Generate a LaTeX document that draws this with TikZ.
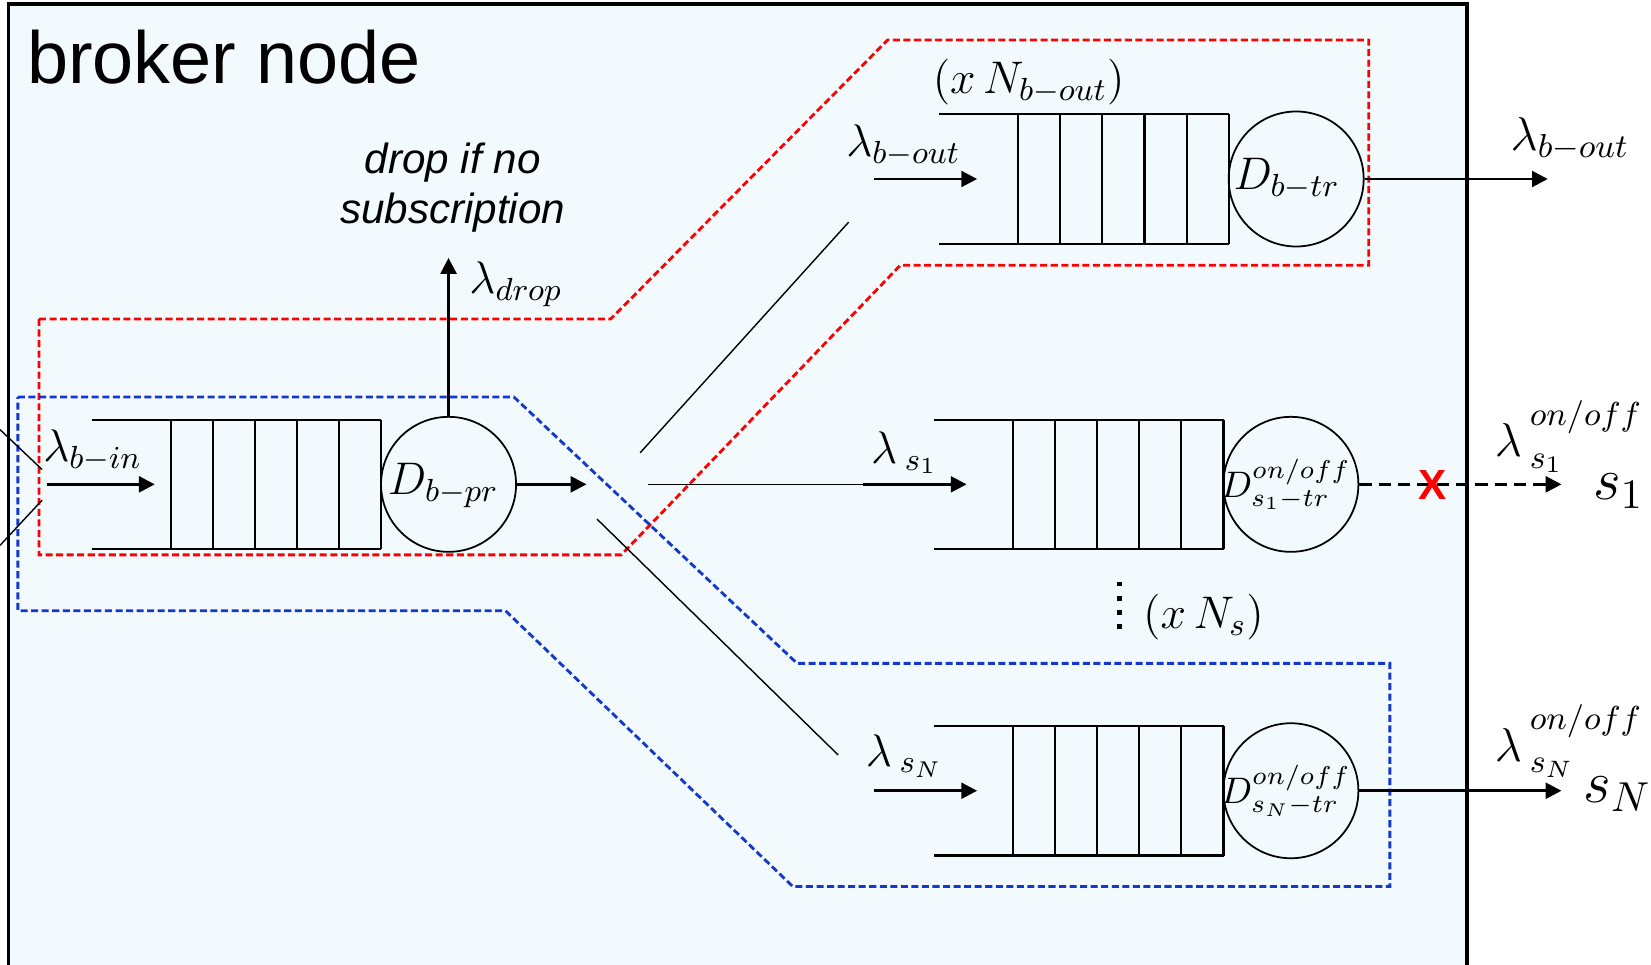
\documentclass[tikz,border=0pt]{standalone}
\usepackage{fix-cm}
\usepackage{fontspec}
\usetikzlibrary{arrows.meta}
\newfontfamily\arialfont{Liberation Sans}
\definecolor{brokerfill}{RGB}{242,250,253}
\definecolor{subblue}{RGB}{20,55,205}
\definecolor{outred}{RGB}{255,0,0}
\newcommand{\onoff}{\raisebox{4pt}{$\scriptstyle on/off$}}
\tikzset{
  qline/.style={line width=0.6pt},
  server/.style={circle,draw,line width=0.5pt,minimum size=1.35cm,inner sep=0pt},
  flow/.style={line width=0.8pt,->},
  split/.style={line width=0.4pt},
  grp/.style={line width=0.8pt,dash pattern=on 2pt off 1pt},
  lab/.style={font=\fontsize{13}{15}\selectfont,inner sep=0pt},
  outlab/.style={font=\fontsize{13.5}{16}\selectfont,inner sep=0pt},
  big/.style={font=\fontsize{17}{20}\selectfont,inner sep=0pt},
}
\begin{document}
\begin{tikzpicture}[>={Triangle[length=4.5pt,width=4.5pt]},x=0.01053cm,y=-0.01053cm]
  \useasboundingbox (0,0) rectangle (1568,916);
  \clip (0,0) rectangle (1568,916);
  \fill[brokerfill] (8,4) rectangle (1393,940);
  \draw[line width=1pt] (8,940) -- (8,4) -- (1393,4) -- (1393,940);
  \node[anchor=base west,inner sep=0pt,font=\arialfont\fontsize{21}{25}\selectfont] (title) at (25,79) {broker node};

  % processing and transmission groups
  \draw[grp,outred] (37,303) -- (580,303) -- (843,38) -- (1300,38) -- (1300,252) -- (855,252) -- (590,527) -- (37,527) -- cycle;
  \draw[grp,subblue] (17,377) -- (488,377) -- (757,630) -- (1320,630) -- (1320,842) -- (753,842) -- (480,580) -- (17,580) -- cycle;

  % queues: open end, five slots
  \foreach \qx/\qy in {162/460, 967/170, 962/460, 962/751}{
    \draw[qline] (\qx-75,\qy-61.5) -- (\qx+200,\qy-61.5) (\qx-75,\qy+61.5) -- (\qx+200,\qy+61.5);
    \foreach \k in {0,...,5}
      \draw[qline] (\qx+40*\k,\qy-61.5) -- (\qx+40*\k,\qy+61.5);
  }
  \node[server] (dpr) at (426,460) {};
  \node[server] (dtr) at (1231,170) {};
  \node[server] (dsone) at (1226,460) {};
  \node[server] (dsn) at (1226,751) {};
  \node[lab] (tdpr) at (421,461) {$D_{b-pr}$};
  \node[lab] (tdtr) at (1222,170) {$D_{b-tr}$};
  \node[lab,font=\fontsize{10.5}{12}\selectfont] (tdsone) at (1221,460) {$D^{on/off}_{s_1-tr}$};
  \node[lab,font=\fontsize{10.5}{12}\selectfont] (tdsn) at (1221,751) {$D^{on/off}_{s_N-tr}$};

  \coordinate (feeda) at (0,408);
  \coordinate (feedb) at (0,518);
  \coordinate (binsrc) at (45,460);
  \coordinate (bindst) at (147,460);
  \coordinate (splitin) at (557,460);
  \coordinate (dropend) at (426,245);
  \coordinate (spa) at (608,430);
  \coordinate (spaend) at (806,211);
  \coordinate (spb) at (615,460);
  \coordinate (spbend) at (820,460);
  \coordinate (spc) at (567,493);
  \coordinate (spcend) at (796,717);
  \coordinate (boutsrc) at (830,170);
  \coordinate (boutdst) at (928,170);
  \coordinate (sonedst) at (918,460);
  \coordinate (snsrc) at (830,751);
  \coordinate (sndst) at (928,751);
  \coordinate (boutend) at (1470,170);
  \coordinate (soneend) at (1483,460);
  \coordinate (snend) at (1483,751);
  \coordinate (dotstop) at (1063,553);
  \coordinate (dotsbot) at (1063,605);

  \draw[split] (feeda) -- (40,446) (40,475) -- (feedb);
  \draw[flow] (binsrc) -- (bindst);
  \draw[flow] (dpr.east) -- (splitin);
  \draw[flow] (dpr.north) -- (dropend);
  \draw[split] (spa) -- (spaend);
  \draw[split] (spb) -- (spbend);
  \draw[split] (spc) -- (spcend);
  \draw[flow] (boutsrc) -- (boutdst);
  \draw[flow] (spbend) -- (sonedst);
  \draw[flow] (snsrc) -- (sndst);
  \draw[flow] (dtr.east) -- (boutend);
  \draw[flow,dash pattern=on 3.5pt off 2pt] (dsone.east) -- (soneend);
  \draw[flow] (dsn.east) -- (snend);
  \draw[line width=1.3pt,dash pattern=on 1.2pt off 2.8pt] (dotstop) -- (dotsbot);

  \node[lab] (lbin) at (88,428) {$\lambda_{b-in}$};
  \node[lab] (ldrop) at (490,270) {$\lambda_{drop}$};
  \node[font=\arialfont\itshape\fontsize{12}{14.3}\selectfont,align=center,inner sep=0pt] (dropnote) at (430,178) {drop if no\\subscription};
  \node[lab] (nbout) at (977,78) {$(x\,N_{b-out})$};
  \node[lab] (lboutin) at (858,138) {$\lambda_{b-out}$};
  \node[outlab] (lboutout) at (1491,132) {$\lambda_{b-out}$};
  \node[lab] (lsonein) at (859,430) {$\lambda\,{}_{s_1}$};
  \node[outlab,anchor=base west] (lsoneout) at (1419,434) {$\lambda\,{}^{\onoff}_{s_1}$};
  \node[big] (sone) at (1537,466) {$s_1$};
  \node[text=outred,font=\arialfont\bfseries\fontsize{12}{14}\selectfont,inner sep=0pt] (cut) at (1361,461) {X};
  \node[lab] (lsnin) at (859,718) {$\lambda\,{}_{s_N}$};
  \node[outlab,anchor=base west] (lsnout) at (1419,723) {$\lambda\,{}^{\onoff}_{s_N}$};
  \node[big] (sn) at (1536,754) {$s_N$};
  \node[lab] (ns) at (1143,586) {$(x\,N_s)$};
\end{tikzpicture}
\end{document}
